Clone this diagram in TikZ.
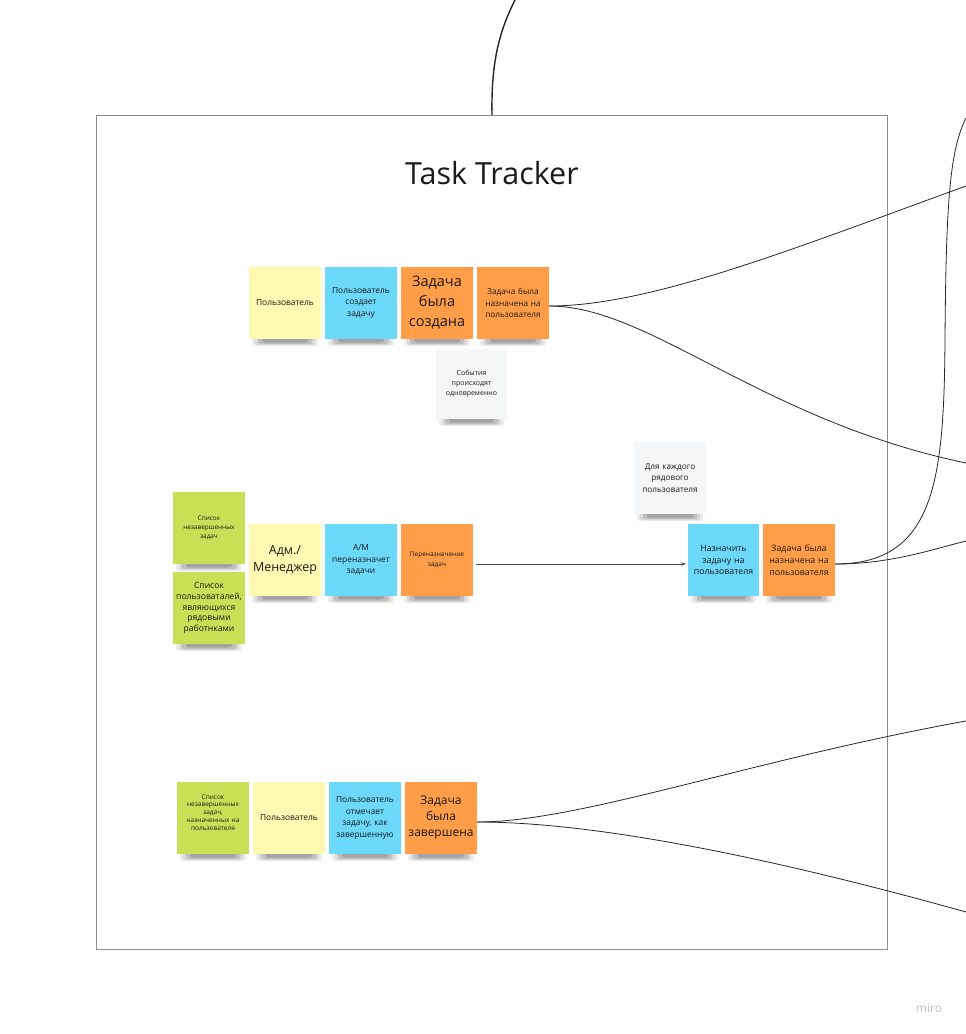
\documentclass[tikz,border=0pt]{standalone}
\usepackage{fontspec}
\setmainfont{Open Sans}
\usetikzlibrary{arrows.meta,calc,backgrounds}
\definecolor{stYellow}{HTML}{FFF9B1}
\definecolor{stBlue}{HTML}{6CD8FA}
\definecolor{stOrange}{HTML}{FF9D48}
\definecolor{stGreen}{HTML}{C9DF56}
\definecolor{stGray}{HTML}{F5F6F8}
\definecolor{frameGray}{HTML}{8C8C8C}
\definecolor{txt}{HTML}{1A1A1A}
\newcommand{\fsz}[2]{\fontsize{#1}{#2}\selectfont}
\newcommand{\stshadow}[1]{%
  \fill[shadowlayer, opacity=0.07] ($(#1.south west)+(3,-10)$) rectangle ($(#1.south east)+(-3,7)$);
  \fill[shadowlayer, opacity=0.09] ($(#1.south west)+(6,-8)$) rectangle ($(#1.south east)+(-6,6)$);
  \fill[shadowlayer, opacity=0.12] ($(#1.south west)+(9,-6)$) rectangle ($(#1.south east)+(-9,5)$);
  \fill[shadowlayer, opacity=0.14] ($(#1.south west)+(13,-4)$) rectangle ($(#1.south east)+(-13,3.5)$);
}
\tikzset{
  sticky/.style={minimum width=72pt, minimum height=72pt, inner sep=0pt,
    text width=68pt, align=center, text=txt},
  syellow/.style={sticky, fill=stYellow},
  sblue/.style={sticky, fill=stBlue},
  sorange/.style={sticky, fill=stOrange},
  sgreen/.style={sticky, fill=stGreen},
  sgray/.style={sticky, fill=stGray},
  shadowlayer/.style={fill=black, rounded corners=3pt},
  conn/.style={draw=black!85, line width=0.8pt},
}
\begin{document}
\begin{tikzpicture}[x=1pt,y=-1pt]
\useasboundingbox (0,0) rectangle (966,1034);
% frame
\node[draw=frameGray, line width=1pt, minimum width=791pt, minimum height=834pt, inner sep=0pt, anchor=north west] (frame) at (96,115) {};
\node[font=\fsz{30.5}{36}, text=txt] (title) at (492,173) {Task Tracker};

% row 1
\node[syellow, font=\fsz{8.4}{11.6}] (r1a) at (285,303) {Пользователь};
\node[sblue, font=\fsz{8.4}{11.6}] (r1b) at (361,303) {Пользователь\\создает\\задачу};
\node[sorange, font=\fsz{14.5}{20}] (r1c) at (437,303) {Задача\\была\\создана};
\node[sorange, font=\fsz{8.2}{11.3}] (r1d) at (513,303) {Задача была\\назначена на\\пользователя};
\node[sgray, minimum width=71pt, minimum height=70pt, font=\fsz{7}{10}] (r1e) at (471.5,384) {События\\происходят\\одновременно};

% row 2
\node[sgreen, font=\fsz{6.4}{9}] (r2g1) at (209,528) {Список\\незавершенных\\задач};
\node[sgreen, text width=72pt, font=\fsz{8.6}{10.9}] (r2g2) at (209,608) {Список\\пользоваталей,\\являющихся\\рядовыми\\работнками};
\node[syellow, font=\fsz{12.5}{16.7}] (r2a) at (285,560) {Адм./\\Менеджер};
\node[sblue, font=\fsz{8.4}{11.7}] (r2b) at (361,560) {А/М\\переназначет\\задачи};
\node[sorange, font=\fsz{6.5}{10}] (r2c) at (437,560) {Переназначение\\задач};
\node[sgray, font=\fsz{8.2}{11.7}] (r2e) at (670,478) {Для каждого\\рядового\\пользователя};
\node[sblue, minimum width=71pt, font=\fsz{8.8}{11.7}] (r2d) at (723.5,560) {Назначить\\задачу на\\пользователя};
\node[sorange, font=\fsz{8.8}{11.7}] (r2f) at (799,560) {Задача была\\назначена на\\пользователя};

% row 3
\node[sgreen, font=\fsz{6.5}{7.9}, execute at end node={\par\vspace*{11pt}}] (r3g) at (213,818) {Список\\незавершенных\\задач,\\назначенных на\\пользователя};
\node[syellow, font=\fsz{8.4}{11.6}] (r3a) at (289,818) {Пользователь};
\node[sblue, font=\fsz{8.4}{11.6}] (r3b) at (365,818) {Пользователь\\отмечает\\задачу, как\\завершенную};
\node[sorange, font=\fsz{12}{16}] (r3c) at (441,818) {Задача\\была\\завершена};

% shadows
\begin{scope}[on background layer]
  \foreach \n in {r1a,r1b,r1c,r1d,r1e,r2g1,r2g2,r2a,r2b,r2c,r2e,r2d,r2f,r3g,r3a,r3b,r3c}{\stshadow{\n}}
\end{scope}

% free ends
\coordinate (topEnd) at (515,0);
\coordinate (e1a) at (966,186);
\coordinate (e1b) at (966,463);
\coordinate (e2a) at (966,118);
\coordinate (e2b) at (966,541);
\coordinate (e3a) at (966,721);
\coordinate (e3b) at (966,912);

% connectors
\draw[conn, line width=1.4pt] (frame.north) .. controls (491,60) and (500,30) .. (topEnd);
\draw[conn] ([yshift=-3pt]r1d.east) .. controls (650,306) and (790,250) .. (e1a);
\draw[conn] ([yshift=-3pt]r1d.east) .. controls (650,306) and (760,420) .. (e1b);
\draw[conn] ([yshift=-4pt]r2f.east) .. controls (935,564) and (944,480) .. (945,340) .. controls (946,200) and (950,150) .. (e2a);
\draw[conn] ([yshift=-4pt]r2f.east) .. controls (890,564) and (930,550) .. (e2b);
\draw[conn, draw=black!70, line width=0.6pt, -{Stealth[length=5pt,width=3.5pt]}] ([xshift=3pt,yshift=-4pt]r2c.east) -- ([xshift=-2pt,yshift=-4pt]r2d.west);
\draw[conn] ([yshift=-4pt]r3c.east) .. controls (580,822) and (750,760) .. (e3a);
\draw[conn] ([yshift=-4pt]r3c.east) .. controls (600,822) and (780,860) .. (e3b);

\node[text=black!25, font=\fsz{12}{14}] (miro) at (929,1008) {miro};
\end{tikzpicture}
\end{document}
